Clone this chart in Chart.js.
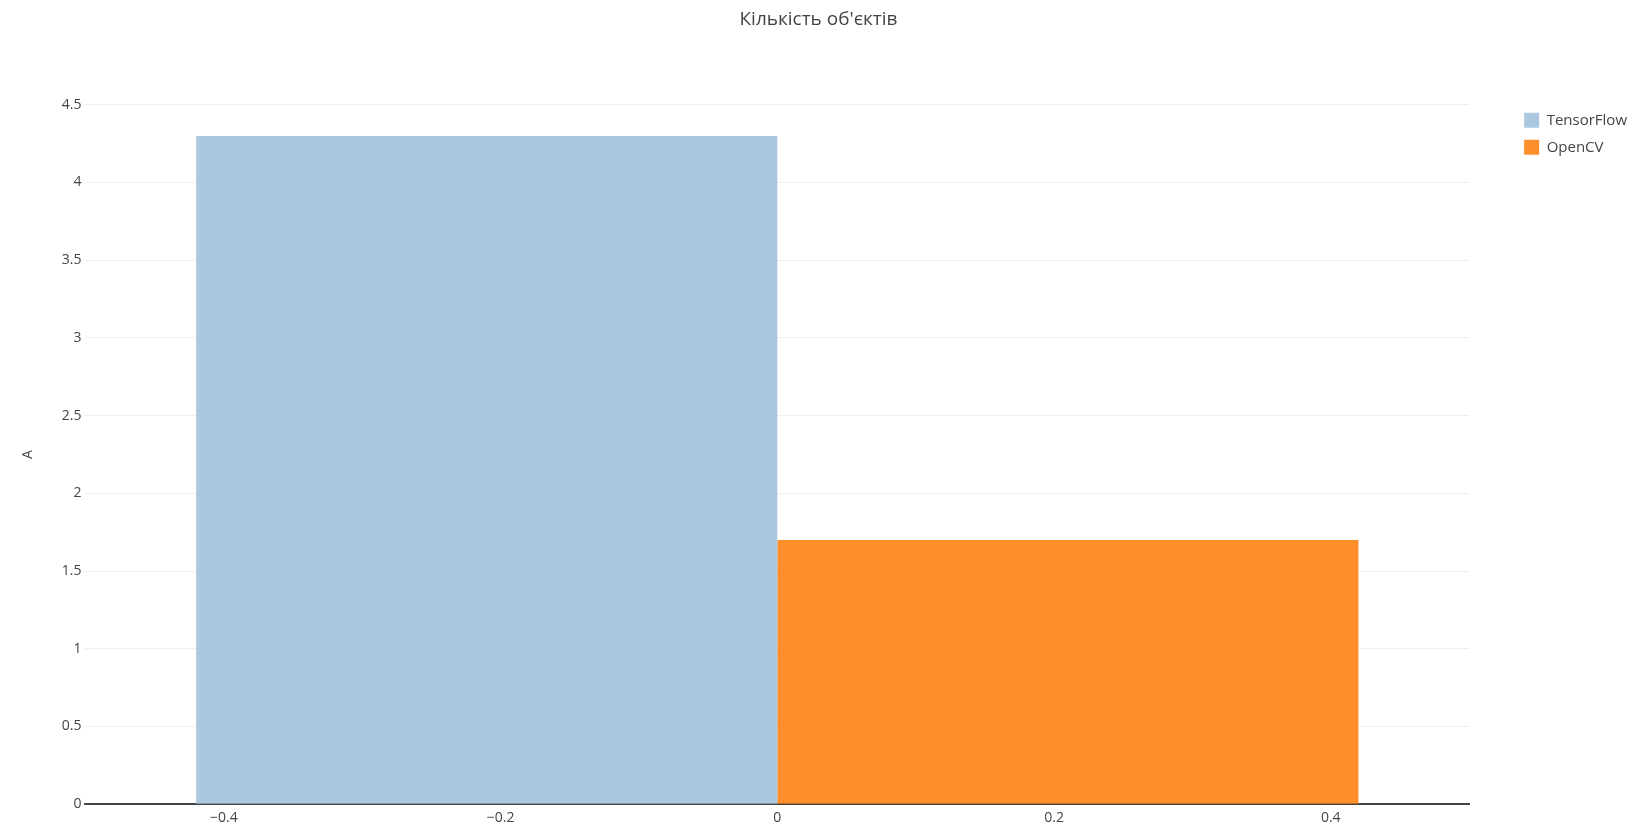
<!DOCTYPE html>
<html>
<head>
<meta charset="utf-8">
<script src="https://cdn.jsdelivr.net/npm/chart.js@4"></script>
<style>
  html, body { margin: 0; padding: 0; background: #fff; }
  #wrap { width: 1641px; height: 831px; }
</style>
</head>
<body>
<div id="wrap"><canvas id="chart"></canvas></div>
<script>
// --- data ---
const categories = [''];
const seriesNames = ['TensorFlow', 'OpenCV'];
const tensorflowValues = [4.3];
const opencvValues = [1.7];
const xTickValues = [-0.4, -0.2, 0, 0.2, 0.4];
const yTickValues = [0, 0.5, 1, 1.5, 2, 2.5, 3, 3.5, 4, 4.5];

const TEXT = '#444';
const FONT = "'Open Sans', sans-serif";

// formatowanie z minusem typograficznym
function fmt(v) {
    const s = String(Math.round(v * 10) / 10);
    return s.replace('-', '\u2212');
}

new Chart(document.getElementById('chart'), {
    type: 'bar',
    data: {
        labels: categories,
        datasets: [
            { label: seriesNames[0], data: tensorflowValues, backgroundColor: 'rgba(163, 194, 222, 0.9)', borderWidth: 0 },
            { label: seriesNames[1], data: opencvValues, backgroundColor: 'rgba(255, 127, 14, 0.88)', borderWidth: 0 }
        ]
    },
    options: {
        responsive: true,
        maintainAspectRatio: false,
        animation: false,
        categoryPercentage: 0.84,
        barPercentage: 1.0,
        layout: { padding: { left: 0, right: 4, top: 0, bottom: 0 } },
        scales: {
            x: { display: false },
            x2: {
                type: 'linear',
                position: 'bottom',
                min: -0.5,
                max: 0.5,
                offset: false,
                afterBuildTicks: axis => { axis.ticks = xTickValues.map(v => ({ value: v })); },
                grid: { display: false, drawTicks: false },
                border: { display: true, color: TEXT, width: 2 },
                ticks: { color: TEXT, font: { family: FONT, size: 14 }, padding: 5, maxRotation: 0, callback: v => fmt(v) }
            },
            y: {
                min: 0,
                max: 4.5,
                afterBuildTicks: axis => { axis.ticks = yTickValues.map(v => ({ value: v })); },
                grid: { color: '#eee', lineWidth: 1, drawTicks: false },
                border: { display: false },
                ticks: { color: TEXT, font: { family: FONT, size: 14 }, padding: 4, callback: v => fmt(v) },
                title: { display: true, text: 'A', color: TEXT, font: { family: FONT, size: 14 }, padding: { top: 20, bottom: 21 } }
            },
            yRight: {
                position: 'right',
                display: true,
                grid: { display: false, drawTicks: false },
                border: { display: false },
                ticks: { display: false },
                afterFit: s => { s.width = 43; }
            }
        },
        plugins: {
            title: {
                display: true,
                text: "Кількість об'єктів",
                color: TEXT,
                font: { family: FONT, size: 19, weight: 'normal' },
                padding: { top: 8, bottom: 74 }
            },
            legend: {
                position: 'right',
                align: 'start',
                title: { display: true, text: ' ', font: { family: FONT, size: 14 }, padding: { top: 84, bottom: 0 } },
                labels: { color: TEXT, font: { family: FONT, size: 15 }, boxWidth: 15, boxHeight: 15, padding: 12 }
            },
            tooltip: { enabled: false }
        }
    }
});
</script>
</body>
</html>
